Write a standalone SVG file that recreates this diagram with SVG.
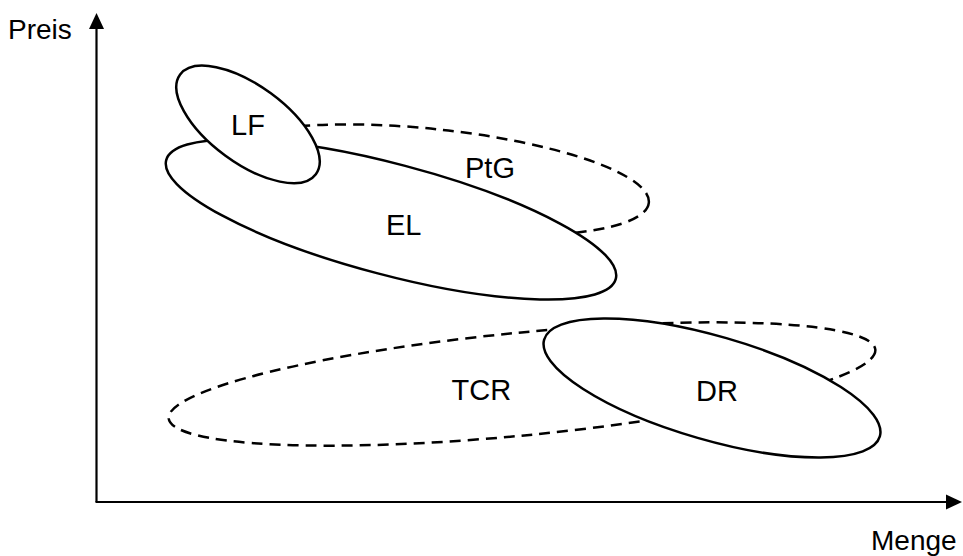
<svg xmlns="http://www.w3.org/2000/svg" width="963" height="556" viewBox="0 0 963 556">
<style>
.bg{fill:#fff}
.solid{fill:#fff;stroke:#000;stroke-width:2.5}
.dash{fill:#fff;stroke:#000;stroke-width:2.5;stroke-dasharray:11 7}
.lbl{font-family:"Liberation Sans",Arial,sans-serif;font-size:29px;fill:#000}
.ax{font-family:"Liberation Sans",Arial,sans-serif;font-size:28px;fill:#000}
.axis{stroke:#000;stroke-width:2.2;fill:none}
.head{fill:#000}
</style>
<rect class="bg" x="0" y="0" width="963" height="556"/>
<g id="connectors">
<line class="axis" x1="96.5" y1="502" x2="96.5" y2="27"/>
<polygon class="head" points="96.5,13 89,29 104,29"/>
<line class="axis" x1="95.5" y1="502" x2="948" y2="502"/>
<polygon class="head" points="962,502 946,494.5 946,509.5"/>
</g>
<g id="axis-y-label"><text class="ax" x="8" y="38.5">Preis</text></g>
<g id="axis-x-label"><text class="ax" x="871" y="550">Menge</text></g>
<g id="PtG">
<ellipse class="dash" cx="432" cy="180" rx="218" ry="51" transform="rotate(6 432 180)"/>
<text class="lbl" x="465" y="177.5">PtG</text>
</g>
<g id="EL">
<ellipse class="solid" cx="391" cy="219.5" rx="232.5" ry="55.5" transform="rotate(14.8 391 219.5)"/>
<text class="lbl" x="386" y="235">EL</text>
</g>
<g id="LF">
<ellipse class="solid" cx="248" cy="124.4" rx="84.2" ry="38.6" transform="rotate(36.3 248 124.4)"/>
<text class="lbl" x="231" y="134.5">LF</text>
</g>
<g id="TCR">
<ellipse class="dash" cx="522" cy="384" rx="355" ry="51.4" transform="rotate(-5.56 522 384)"/>
<text class="lbl" x="451.5" y="400">TCR</text>
</g>
<g id="DR">
<ellipse class="solid" cx="712" cy="388" rx="174.7" ry="51.9" transform="rotate(16.1 712 388)"/>
<text class="lbl" x="696" y="401">DR</text>
</g>
</svg>
